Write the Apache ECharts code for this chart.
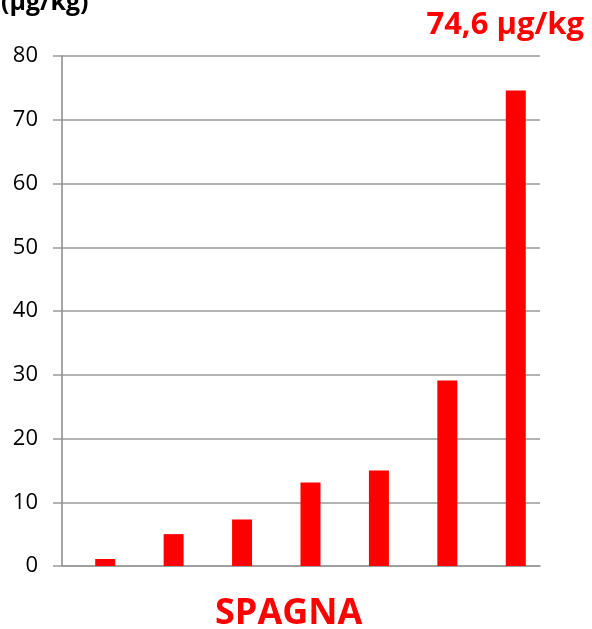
<!DOCTYPE html>
<html>
<head>
<meta charset="utf-8">
<script src="https://cdn.jsdelivr.net/npm/echarts@6/dist/echarts.min.js"></script>
<style>
  html, body { margin: 0; padding: 0; background: #ffffff; }
  #chart { width: 592px; height: 629px; }
</style>
</head>
<body>
<div id="chart"></div>
<script>
// Samples (one bar each), concentration in µg/kg
const categories = ['1', '2', '3', '4', '5', '6', '7'];
const values = [1.1, 5.0, 7.3, 13.1, 15.0, 29.1, 74.6];
const yTicks = [0, 10, 20, 30, 40, 50, 60, 70, 80];
const unitLabel = '(µg/kg)';
const maxLabel = '74,6 µg/kg';
const countryLabel = 'SPAGNA';

const FONT = '"Open Sans", "Noto Sans", sans-serif';
const chart = echarts.init(document.getElementById('chart'), null, { renderer: 'canvas' });

const yMin = yTicks[0];
const yMax = yTicks[yTicks.length - 1];

chart.setOption({
  animation: false,
  backgroundColor: '#ffffff',
  // grid 0: frame, gridlines and value labels; grid 1: the bars, set a little to the right
  grid: [
    { left: 62, right: 52, top: 56, bottom: 63, containLabel: false },
    { left: 71, right: 42, top: 56, bottom: 63, containLabel: false }
  ],
  xAxis: [
    {
      gridIndex: 0,
      type: 'category',
      data: categories,
      axisLine: { show: true, lineStyle: { color: '#999999', width: 1.5 } },
      axisTick: { show: false },
      axisLabel: { show: false },
      splitLine: { show: false }
    },
    {
      gridIndex: 1,
      type: 'category',
      data: categories,
      show: false
    }
  ],
  yAxis: [
    {
      gridIndex: 0,
      type: 'value',
      min: yMin,
      max: yMax,
      interval: 10,
      axisLine: { show: true, lineStyle: { color: '#888888', width: 1.5 } },
      axisTick: { show: true, length: 9, lineStyle: { color: '#999999', width: 1.5 } },
      axisLabel: { color: '#000000', fontSize: 22, fontFamily: FONT, margin: 24 },
      splitLine: { show: true, lineStyle: { color: '#999999', width: 1.5 } }
    },
    {
      gridIndex: 1,
      type: 'value',
      min: yMin,
      max: yMax,
      interval: 10,
      show: false,
      splitLine: { show: false }
    }
  ],
  series: [{
    type: 'bar',
    xAxisIndex: 1,
    yAxisIndex: 1,
    data: values,
    barWidth: 20,
    itemStyle: { color: '#ff0000' }
  }],
  graphic: [
    {
      type: 'text', left: 1, top: -10,
      style: { text: unitLabel, fill: '#000000', font: 'bold 25px ' + FONT }
    },
    {
      type: 'text', right: 8, top: 10,
      style: { text: maxLabel, fill: '#ff0000', font: 'bold 31px ' + FONT }
    },
    {
      type: 'text', left: 215, top: 596,
      style: { text: countryLabel, fill: '#ff0000', font: 'bold 36px ' + FONT }
    }
  ]
});
</script>
</body>
</html>
